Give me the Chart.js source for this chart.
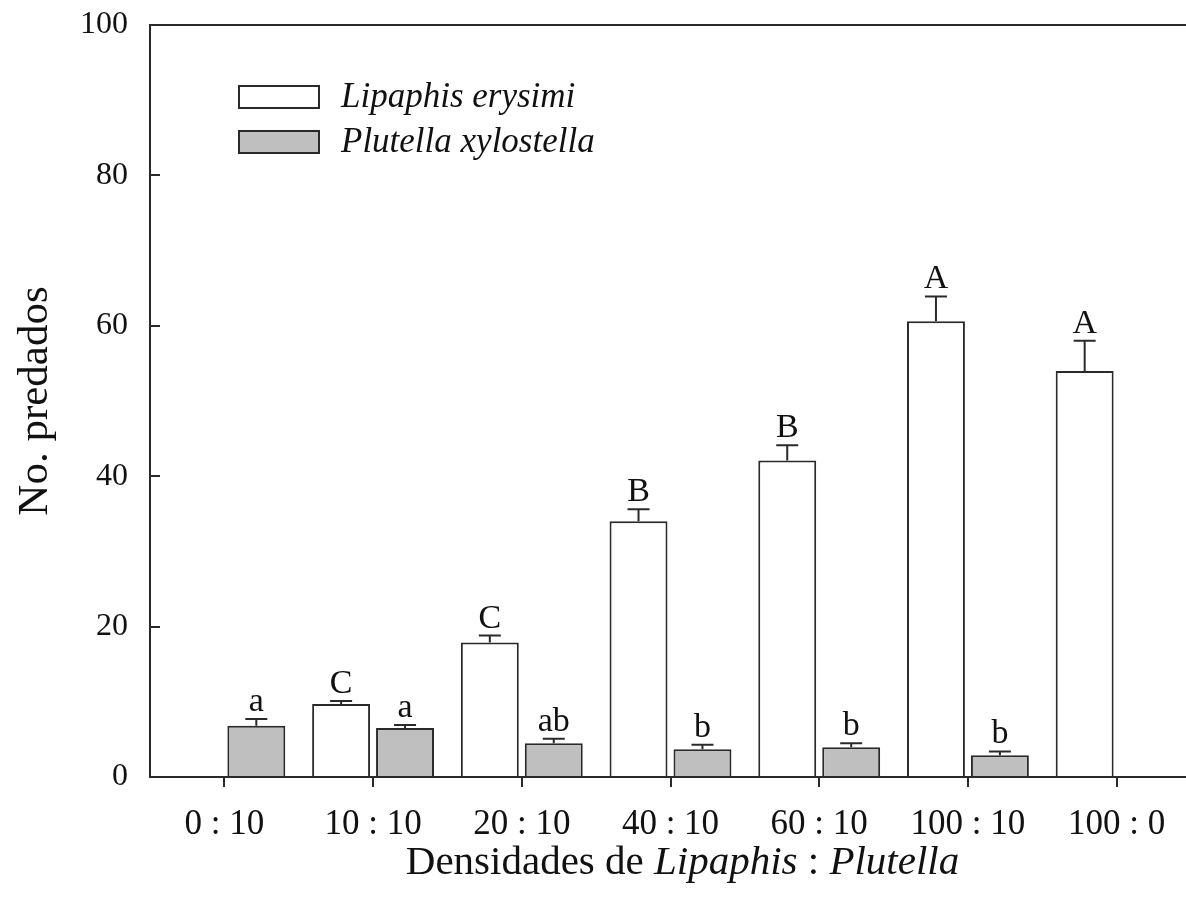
<!DOCTYPE html>
<html>
<head>
<meta charset="utf-8">
<script src="https://cdn.jsdelivr.net/npm/chart.js@4.4.1/dist/chart.umd.min.js"></script>
<style>
  html, body { margin: 0; padding: 0; background: #fff; overflow: hidden; }
</style>
</head>
<body>
<canvas id="chart" width="1196" height="911"></canvas>
<script>
// densities Lipaphis : Plutella
const categories = ["0 : 10", "10 : 10", "20 : 10", "40 : 10", "60 : 10", "100 : 10", "100 : 0"];

// mean number preyed on, and top of the error bar (mean + SE)
const lipaphisMeans = [null, 9.7, 17.9, 34.0, 42.1, 60.6, 54.0];
const lipaphisUpper = [null, 10.1, 18.8, 35.6, 44.1, 63.9, 58.0];
const lipaphisLetters = ["", "C", "C", "B", "B", "A", "A"];

const plutellaMeans = [6.8, 6.5, 4.5, 3.7, 3.95, 2.9, null];
const plutellaUpper = [7.7, 6.9, 5.1, 4.3, 4.5, 3.4, null];
const plutellaLetters = ["a", "a", "ab", "b", "b", "b", ""];

const yMin = 0;
const yMax = 100;
const yStep = 20;

const serif = "'Liberation Serif', 'Times New Roman', serif";
const ink = "#111";
const lineColor = "#2a2a2a";

const errorBars = {
  id: "errorBars",
  afterDatasetsDraw(chart) {
    const ctx = chart.ctx;
    const yScale = chart.scales.y;
    chart.data.datasets.forEach((ds, i) => {
      const meta = chart.getDatasetMeta(i);
      meta.data.forEach((bar, j) => {
        if (ds.data[j] == null) return;
        const top = yScale.getPixelForValue(ds.upper[j]);
        ctx.save();
        ctx.strokeStyle = lineColor;
        ctx.lineWidth = 2;
        ctx.beginPath();
        ctx.moveTo(bar.x, bar.y);
        ctx.lineTo(bar.x, top);
        ctx.moveTo(bar.x - 11, top);
        ctx.lineTo(bar.x + 11, top);
        ctx.stroke();
        ctx.fillStyle = ink;
        ctx.font = "34px " + serif;
        ctx.textAlign = "center";
        ctx.textBaseline = "alphabetic";
        ctx.fillText(ds.letters[j], bar.x, top - 8);
        ctx.restore();
      });
    });
  },
};

const frameAndLegend = {
  id: "frameAndLegend",
  afterDraw(chart) {
    const ctx = chart.ctx;
    const area = chart.chartArea;
    ctx.save();

    // top edge of the frame
    ctx.strokeStyle = lineColor;
    ctx.lineWidth = 2;
    ctx.beginPath();
    ctx.moveTo(area.left - 1, area.top);
    ctx.lineTo(area.right, area.top);
    ctx.stroke();

    // legend
    ctx.font = "italic 35px " + serif;
    ctx.textBaseline = "middle";
    ctx.textAlign = "left";
    chart.data.datasets.forEach((ds, i) => {
      const bx = area.left + 89;
      const by = area.top + 61 + i * 45;
      ctx.fillStyle = ds.backgroundColor;
      ctx.fillRect(bx, by, 80, 22);
      ctx.strokeStyle = lineColor;
      ctx.lineWidth = 2;
      ctx.strokeRect(bx, by, 80, 22);
      ctx.fillStyle = ink;
      ctx.fillText(ds.label, bx + 102, by + 12);
    });

    // x axis title, with italic genus names
    const parts = [
      ["Densidades de ", false],
      ["Lipaphis", true],
      [" : ", false],
      ["Plutella", true],
    ];
    let total = 0;
    parts.forEach((p) => {
      ctx.font = (p[1] ? "italic " : "") + "41px " + serif;
      total += ctx.measureText(p[0]).width;
    });
    let x = (area.left + area.right) / 2 + 12 - total / 2;
    ctx.fillStyle = ink;
    ctx.textBaseline = "alphabetic";
    parts.forEach((p) => {
      ctx.font = (p[1] ? "italic " : "") + "41px " + serif;
      ctx.fillText(p[0], x, 874);
      x += ctx.measureText(p[0]).width;
    });

    ctx.restore();
  },
};

new Chart(document.getElementById("chart").getContext("2d"), {
  type: "bar",
  data: {
    labels: categories,
    datasets: [
      {
        label: "Lipaphis erysimi",
        data: lipaphisMeans,
        upper: lipaphisUpper,
        letters: lipaphisLetters,
        backgroundColor: "#ffffff",
        borderColor: lineColor,
        borderWidth: 2,
        categoryPercentage: 0.86,
        barPercentage: 0.906,
      },
      {
        label: "Plutella xylostella",
        data: plutellaMeans,
        upper: plutellaUpper,
        letters: plutellaLetters,
        backgroundColor: "#bfbfbf",
        borderColor: lineColor,
        borderWidth: 2,
        categoryPercentage: 0.86,
        barPercentage: 0.906,
      },
    ],
  },
  options: {
    responsive: false,
    animation: false,
    layout: { padding: { top: 0, right: 5, left: 0, bottom: 0 } },
    plugins: {
      legend: { display: false },
      tooltip: { enabled: false },
    },
    scales: {
      x: {
        grid: {
          offset: false,
          drawOnChartArea: false,
          drawTicks: true,
          tickLength: 10,
          color: lineColor,
          lineWidth: 2,
        },
        border: { display: true, color: lineColor, width: 2 },
        ticks: {
          color: ink,
          padding: 17,
          maxRotation: 0,
          font: { family: serif, size: 35 },
        },
        afterFit(scale) {
          scale.height = 134;
        },
      },
      y: {
        min: yMin,
        max: yMax,
        grid: {
          drawOnChartArea: false,
          drawTicks: true,
          tickLength: -10,
          color: lineColor,
          lineWidth: 2,
        },
        border: { display: true, color: lineColor, width: 2 },
        ticks: {
          stepSize: yStep,
          color: ink,
          padding: 32,
          font: { family: serif, size: 32 },
        },
        title: {
          display: true,
          text: "No. predados",
          color: ink,
          padding: { top: 10 },
          font: { family: serif, size: 43 },
        },
        afterFit(scale) {
          scale.width = 150;
          scale.paddingTop = 25;
          scale.paddingBottom = 20;
        },
      },
    },
  },
  plugins: [errorBars, frameAndLegend],
});
</script>
</body>
</html>
